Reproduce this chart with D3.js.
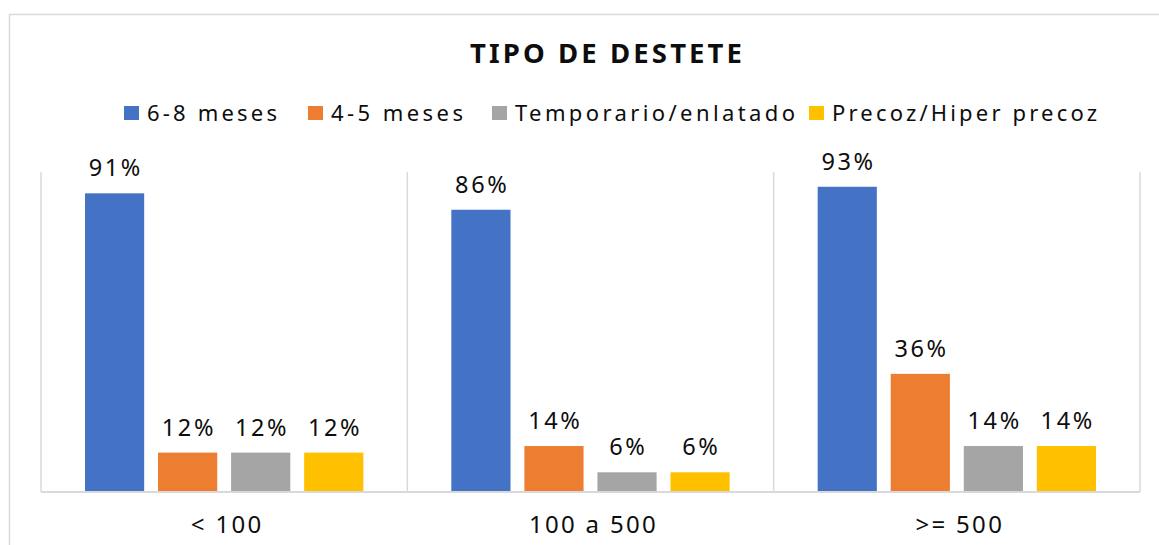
<!DOCTYPE html>
<html>
<head>
<meta charset="utf-8">
<script src="https://cdn.jsdelivr.net/npm/d3@7"></script>
<style>
  html, body { margin: 0; padding: 0; background: #ffffff; }
  svg { display: block; font-family: "Noto Sans", "Open Sans", sans-serif; }
</style>
</head>
<body>
<svg id="chart" width="1159" height="545"></svg>
<script>
// ---- data ----
const title = "TIPO DE DESTETE";
const categories = ["< 100", "100 a 500", ">= 500"];
const seriesNames = ["6-8 meses", "4-5 meses", "Temporario/enlatado", "Precoz/Hiper precoz"];
const seriesColors = ["#4472C4", "#ED7D31", "#A5A5A5", "#FFC000"];
const s68 = [0.91, 0.86, 0.93];
const s45 = [0.12, 0.14, 0.36];
const sTemp = [0.12, 0.06, 0.14];
const sPrecoz = [0.12, 0.06, 0.14];
const seriesValues = [s68, s45, sTemp, sPrecoz];
const legendWidths = [130, 132, 280, 265];

// ---- layout ----
const W = 1159, H = 545;
const plot = { left: 41, right: 1140, top: 172, bottom: 492 };
const yMax = 0.975;
const grid = "#d9d9d9";
const ink = "#0d0d0d";
const labelSpacing = 2.6;
const catSpacing = 2.3;

const svg = d3.select("#chart");

// chart-area border (extends past the picture right and bottom)
svg.append("rect")
  .attr("x", 9.5).attr("y", 14.5)
  .attr("width", W + 20).attr("height", H + 20)
  .attr("fill", "#fff").attr("stroke", grid).attr("stroke-width", 1.5);

// title
svg.append("text")
  .attr("x", 606).attr("y", 63)
  .attr("text-anchor", "middle")
  .style("font-size", "27.5px").attr("font-weight", "bold").attr("fill", ink)
  .attr("textLength", 272).attr("lengthAdjust", "spacing")
  .text(title);

// legend
const legendX = [124, 308, 492, 809];
const lg = svg.append("g");
seriesNames.forEach((name, i) => {
  lg.append("rect")
    .attr("x", legendX[i]).attr("y", 106)
    .attr("width", 15).attr("height", 14)
    .attr("fill", seriesColors[i]);
  lg.append("text")
    .attr("x", legendX[i] + 23).attr("y", 121)
    .style("font-size", "22px").attr("fill", ink)
    .attr("textLength", legendWidths[i]).attr("lengthAdjust", "spacing")
    .text(name);
});

// scales
const x0 = d3.scaleBand().domain(categories).range([plot.left, plot.right]).padding(0);
const bw = x0.bandwidth();
const x1 = d3.scaleBand().domain(d3.range(seriesNames.length))
  .range([44, bw - 44]).paddingInner(0.19).paddingOuter(0);
const y = d3.scaleLinear().domain([0, yMax]).range([plot.bottom, plot.top]);

// category separators (vertical gridlines)
const bounds = categories.map(c => x0(c)).concat([x0(categories[categories.length - 1]) + bw]);
svg.append("g").selectAll("line").data(bounds).join("line")
  .attr("x1", d => d).attr("x2", d => d)
  .attr("y1", plot.top).attr("y2", plot.bottom)
  .attr("stroke", grid).attr("stroke-width", 1.5);

// bars
const rows = [];
categories.forEach((c, ci) => {
  seriesValues.forEach((vals, si) => rows.push({ c, si, v: vals[ci] }));
});
const bars = svg.append("g");
bars.selectAll("rect").data(rows).join("rect")
  .attr("x", d => x0(d.c) + x1(d.si))
  .attr("y", d => y(d.v))
  .attr("width", x1.bandwidth())
  .attr("height", d => y(0) - y(d.v))
  .attr("fill", d => seriesColors[d.si]);

// data labels
bars.selectAll("text").data(rows).join("text")
  .attr("x", d => x0(d.c) + x1(d.si) + x1.bandwidth() / 2 + labelSpacing / 2)
  .attr("y", d => y(d.v) - 17)
  .attr("text-anchor", "middle")
  .style("font-size", "23.5px").attr("fill", ink)
  .attr("letter-spacing", labelSpacing)
  .text(d => d3.format(".0%")(d.v));

// x axis
const xAxis = svg.append("g").attr("transform", `translate(0,${plot.bottom})`)
  .call(d3.axisBottom(x0).tickSize(0).tickPadding(0));
xAxis.attr("font-size", null).attr("font-family", null);
xAxis.select(".domain").attr("stroke", grid).attr("stroke-width", 2)
  .attr("d", `M${plot.left},0H${plot.right}`);
xAxis.selectAll(".tick text")
  .attr("x", 3).attr("y", 41).attr("dy", 0)
  .style("font-size", "24px").attr("fill", ink)
  .attr("letter-spacing", catSpacing);
</script>
</body>
</html>
